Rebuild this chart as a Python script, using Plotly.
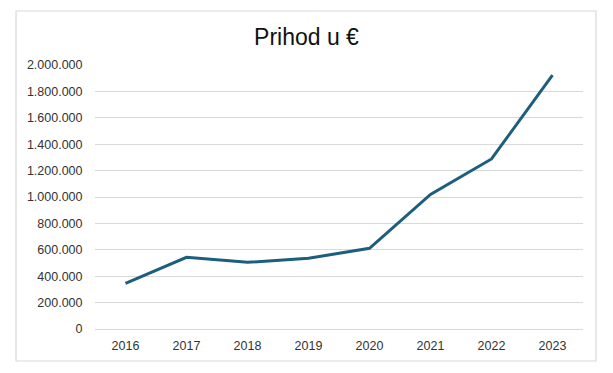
import plotly.graph_objects as go

years = ["2016", "2017", "2018", "2019", "2020", "2021", "2022", "2023"]
revenue = [346000, 543000, 505000, 536000, 611000, 1020000, 1288000, 1924000]
y_ticks = [0, 200000, 400000, 600000, 800000, 1000000, 1200000, 1400000, 1600000, 1800000, 2000000]
title_text = "Prihod u €"

fig = go.Figure()
fig.add_trace(go.Scatter(
    x=years, y=revenue, mode="lines",
    line=dict(color="#1B5E7E", width=3),
    hoverinfo="skip",
))

fig.update_layout(
    width=613, height=373,
    margin=dict(l=95, r=30, t=65, b=44),
    paper_bgcolor="white", plot_bgcolor="white",
    separators=",.",
    showlegend=False,
    font=dict(family="Liberation Sans, Arial, sans-serif", size=12.5, color="#333333"),
    title=dict(text=title_text, x=0.5, xanchor="center", y=1 - 37 / 373, yanchor="middle",
               font=dict(size=23, color="#111111")),
    xaxis=dict(type="category", range=[-0.5, 7.5], showgrid=False, showline=True,
               linecolor="#D9D9D9", linewidth=1,
               ticks="outside", ticklen=5, tickcolor="rgba(0,0,0,0)", fixedrange=True),
    yaxis=dict(range=[0, 2000000], tickvals=y_ticks, tickformat=",.0f",
               showgrid=True, gridcolor="#D9D9D9", gridwidth=1, zeroline=False,
               ticks="outside", ticklen=9, tickcolor="rgba(0,0,0,0)", fixedrange=True),
    shapes=[dict(type="rect", xref="paper", yref="paper",
                 x0=(16 - 95) / 488, x1=(596 - 95) / 488,
                 y0=(329 - 361) / 264, y1=(329 - 11) / 264,
                 line=dict(color="#D9D9D9", width=1.2), fillcolor="rgba(0,0,0,0)", layer="below")],
)

fig.write_html("out.html", config={"displayModeBar": False},
               post_script="document.body.style.margin='0';")
